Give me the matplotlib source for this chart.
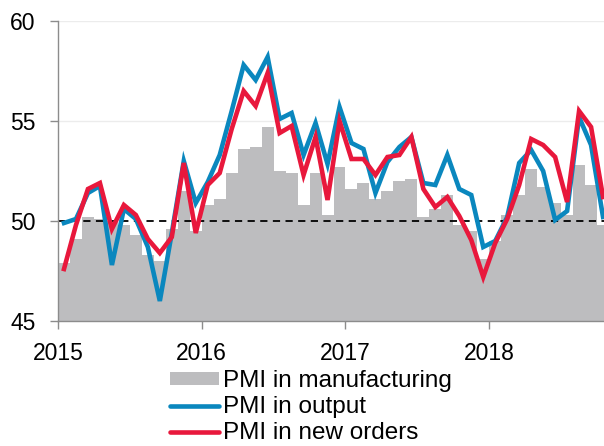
import matplotlib
matplotlib.use("Agg")
import matplotlib.pyplot as plt
import numpy as np

plt.rcParams['font.family'] = ['Liberation Sans', 'DejaVu Sans']

# Monthly data, Jan 2015 .. Oct 2018
years = ["2015", "2016", "2017", "2018"]
manufacturing = [47.9, 49.1, 50.2, 50.1, 50.0, 49.8, 49.3, 48.3, 48.0, 49.6, 51.5, 49.5,
                 50.8, 51.1, 52.4, 53.6, 53.7, 54.7, 52.5, 52.4, 50.8, 52.4, 50.3, 52.7,
                 51.6, 51.9, 51.1, 51.5, 52.0, 52.1, 50.2, 50.6, 51.3, 49.8, 49.5, 48.1,
                 49.0, 50.3, 51.3, 52.6, 51.7, 50.9, 50.3, 52.8, 51.8, 49.8]
output = [49.9, 50.1, 51.4, 51.75, 47.8, 50.6, 50.1, 48.7, 46.0, 49.4, 53.0, 50.9,
          51.95, 53.3, 55.5, 57.8, 57.05, 58.2, 55.1, 55.4, 53.3, 54.9, 52.85, 55.7,
          53.9, 53.6, 51.4, 52.95, 53.7, 54.2, 51.9, 51.8, 53.3, 51.6, 51.3, 48.7,
          49.0, 50.2, 52.9, 53.55, 52.5, 50.05, 50.5, 55.2, 53.8, 50.2]
new_orders = [47.6, 49.8, 51.6, 51.9, 49.6, 50.8, 50.3, 49.1, 48.4, 49.2, 52.9, 49.4,
              51.8, 52.4, 54.6, 56.5, 55.75, 57.4, 54.4, 54.75, 52.3, 54.2, 51.05, 55.0,
              53.1, 53.1, 52.3, 53.2, 53.3, 54.2, 51.6, 50.7, 51.2, 50.25, 49.05, 47.2,
              48.9, 50.1, 51.8, 54.1, 53.8, 53.2, 50.95, 55.5, 54.7, 51.2]

x = np.arange(len(manufacturing))

fig = plt.figure(figsize=(6.04, 4.46), dpi=100)
ax = fig.add_axes([58 / 604, 1 - 321 / 446, 546 / 604, 300 / 446])

for yv in (55, 60):
    ax.axhline(yv, color='#ececec', lw=1.0, zorder=0)

bars = ax.bar(x, np.array(manufacturing) - 45, bottom=45, width=1.0, color='#bdbdbf',
              edgecolor='none', zorder=1, label='PMI in manufacturing')
ax.axhline(50, color='black', lw=1.3, ls=(0, (4, 3)), zorder=2)
l1, = ax.plot(x, output, color='#0a87be', lw=3.3, zorder=3, label='PMI in output',
              solid_joinstyle='miter')
l2, = ax.plot(x, new_orders, color='#e8183c', lw=3.3, zorder=4, label='PMI in new orders',
              solid_joinstyle='miter')

ax.set_xlim(-0.5, 45.08)
ax.set_ylim(45, 60)
ax.set_yticks([45, 50, 55, 60])
ax.set_xticks([-0.5 + 12 * i for i in range(len(years))])
ax.set_xticklabels(years)

for s in ('top', 'right'):
    ax.spines[s].set_visible(False)
for s in ('left', 'bottom'):
    ax.spines[s].set_color('#8c8c8c')
    ax.spines[s].set_linewidth(1.0)

ax.tick_params(axis='y', direction='out', length=6, width=1.0, color='#8c8c8c',
               pad=10, labelsize=16.5, labelcolor='black')
ax.tick_params(axis='x', direction='out', length=6, width=1.0, color='#8c8c8c',
               pad=9, labelsize=16.5, labelcolor='black')

leg = fig.legend([bars, l1, l2],
                 ['PMI in manufacturing', 'PMI in output', 'PMI in new orders'],
                 loc='upper left',
                 bbox_to_anchor=(170 / 604, 1 - 370 / 446),
                 frameon=False, fontsize=17.5, handlelength=2.0, handleheight=0.45,
                 handletextpad=0.2, labelspacing=0.17, borderpad=0, borderaxespad=0)
for line in leg.get_lines():
    line.set_solid_capstyle('round')
    line.set_linewidth(3.3)

fig.savefig('out.png', dpi=100)
